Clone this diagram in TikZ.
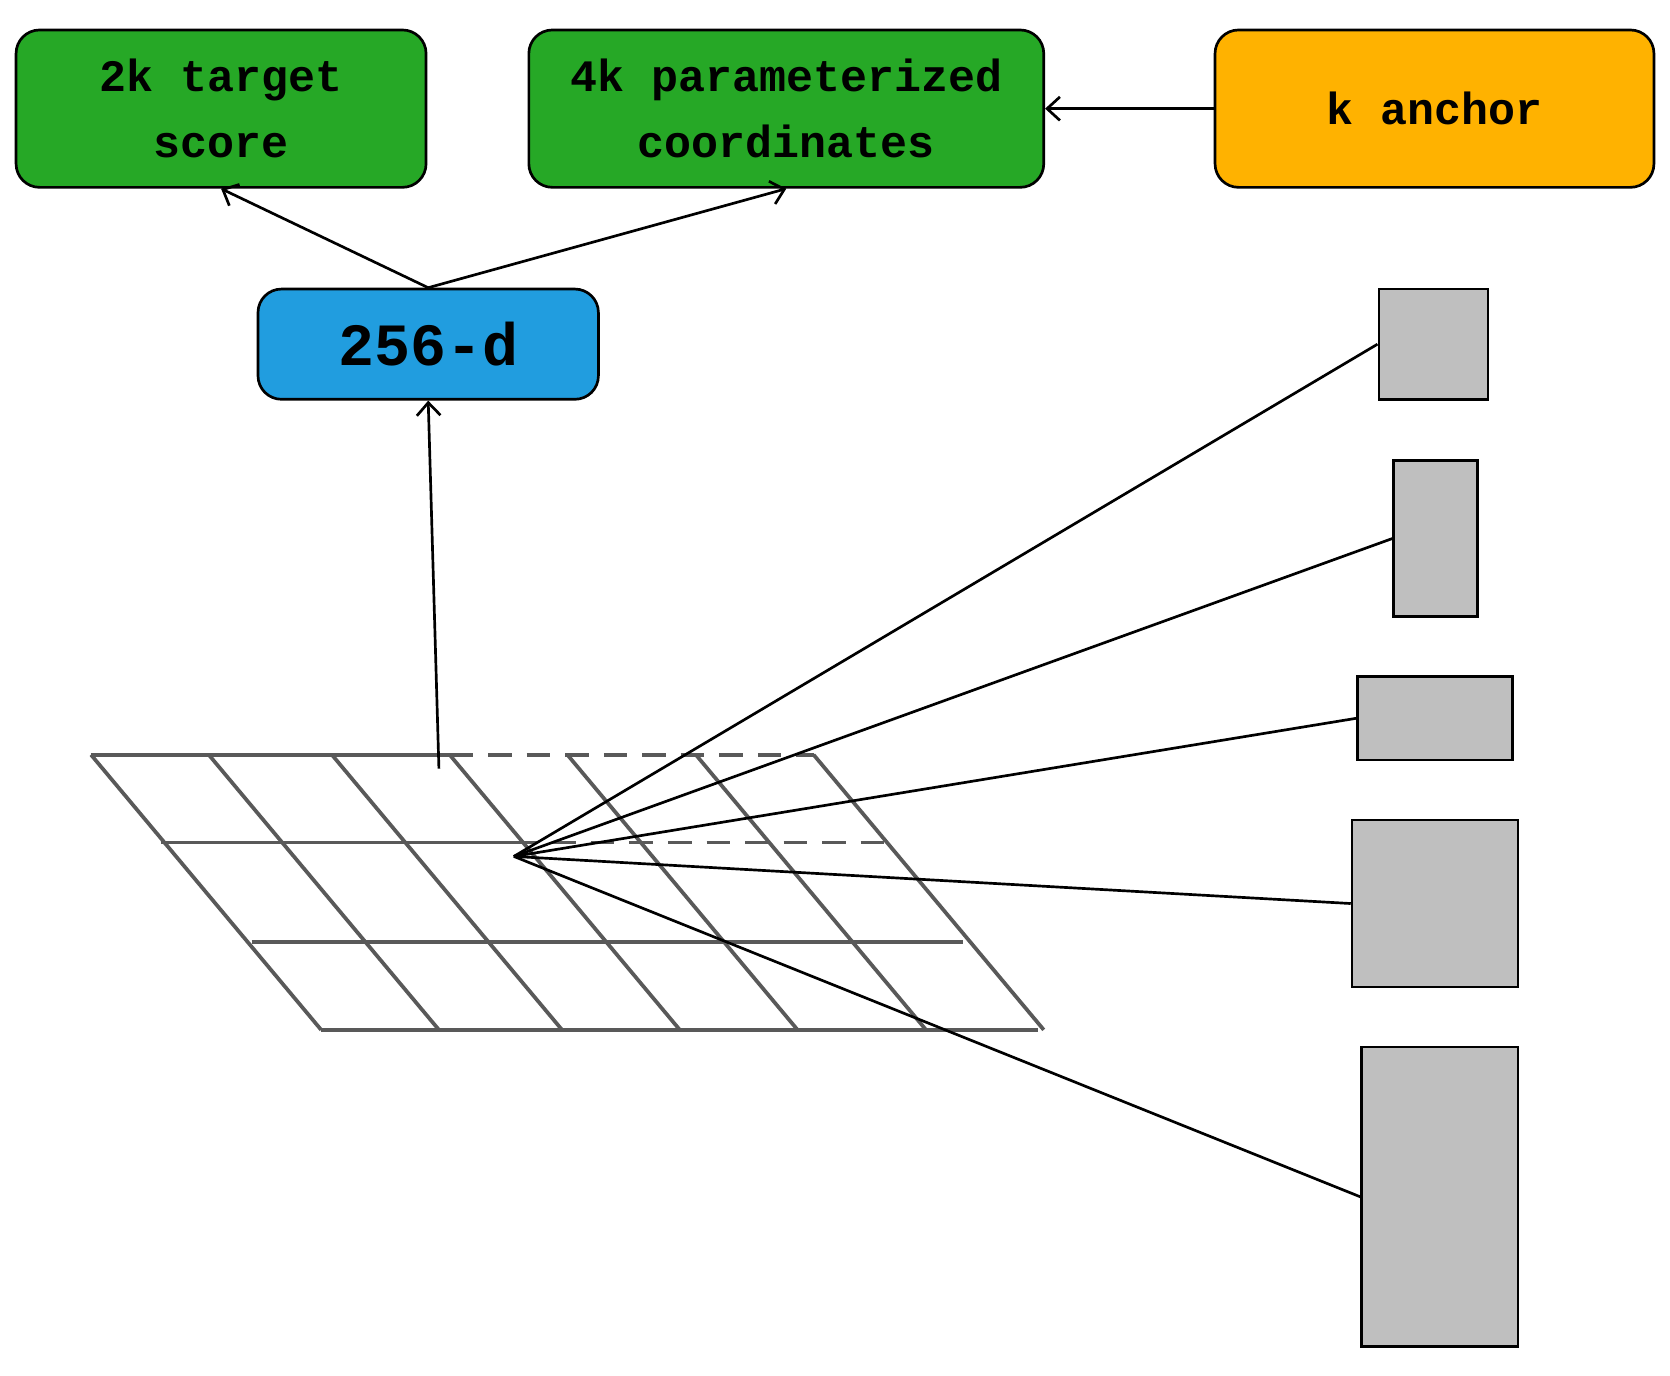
\documentclass[tikz,border=0pt]{standalone}
\usepackage{fontspec}
\setmainfont{Liberation Mono}
\begin{document}
\begin{tikzpicture}[x=1pt,y=-1pt,
 box/.style={draw,line width=2.5pt,rounded corners=22pt,align=center,font=\fontsize{42}{62}\selectfont\bfseries,inner sep=0pt},
 anc/.style={draw,line width=2.5pt,fill=gray!50},
 conn/.style={line width=2.5pt},
 arr/.style={conn,->,>={Straight Barb[length=12pt,width=22pt]}},
 grid/.style={line width=3.5pt,black!65},
 gdash/.style={grid,dash pattern=on 22pt off 14pt}]
\useasboundingbox (0,0) rectangle (1560,1285);
\node[box,fill=green!60!black!85,minimum width=383pt,minimum height=147pt] (ts) at (206.5,101.5) {2k target\\score};
\node[box,fill=green!60!black!85,minimum width=481pt,minimum height=147pt] (pc) at (734.5,101.5) {4k parameterized\\coordinates};
\node[box,fill=orange!60!yellow,minimum width=410pt,minimum height=147pt] (ka) at (1340,101.5) {k anchor};
\node[box,fill=cyan!80!blue!90,minimum width=318pt,minimum height=103pt,font=\fontsize{56}{60}\selectfont\bfseries] (d) at (400,321.5) {256-d};
\usetikzlibrary{arrows.meta}
% grid
\foreach \x in {85,195,310,420,530,650,760} \draw[grid] (\x,705) -- (\x+215,962);
\draw[grid] (85,705) -- (420,705);
\draw[gdash] (420,705) -- (760,705);
\draw[grid] (150,787) -- (480,787);
\draw[gdash] (480,787) -- (830,787);
\draw[grid] (235,880) -- (900,880);
\draw[grid] (300,962) -- (970,962);
\coordinate (f) at (480,800);
\coordinate (g) at (410,718);
\node[anc,minimum width=102pt,minimum height=103pt,inner sep=0pt] (a1) at (1339,321.5) {};
\node[anc,minimum width=78pt,minimum height=146pt,inner sep=0pt] (a2) at (1341,503) {};
\node[anc,minimum width=145pt,minimum height=78pt,inner sep=0pt] (a3) at (1340.5,671) {};
\node[anc,minimum width=155pt,minimum height=156pt,inner sep=0pt] (a4) at (1340.5,844) {};
\node[anc,minimum width=146pt,minimum height=280pt,inner sep=0pt] (a5) at (1345,1118) {};
\foreach \a in {a1,a2,a3,a4,a5} \draw[conn] (f) -- (\a.west);
\draw[arr] (g) -- (d.south);
\draw[arr] (d.north) -- (ts.south);
\draw[arr] (d.north) -- (pc.south);
\draw[arr] (ka.west) -- (pc.east);
\end{tikzpicture}
\end{document}
